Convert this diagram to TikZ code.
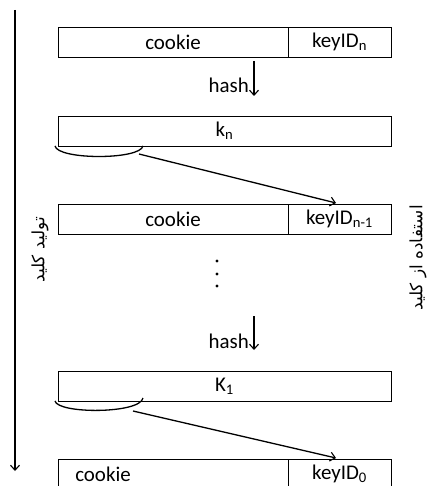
\documentclass[tikz,border=0pt]{standalone}
\usepackage{fontspec}
\setmainfont{Carlito}
\newfontfamily\arabicfont[Script=Arabic]{DejaVu Sans}
\TeXXeTstate=1
\usetikzlibrary{arrows.meta}
\begin{document}
\begin{tikzpicture}[x=1bp,y=-1bp,
  cell/.style={draw=black,line width=0.8bp,minimum height=30bp,inner sep=0pt,outer sep=0pt,anchor=north west},
  lbl/.style={font=\fontsize{21}{25}\selectfont,inner sep=0pt},
  arr/.style={-{Straight Barb[length=5bp,width=9bp,line width=1.1bp]},line width=1.3bp},
  brace/.style={line width=1.3bp},
  side/.style={rotate=90,font=\arabicfont\fontsize{17}{20}\selectfont,inner sep=0pt}]
\useasboundingbox (0,0) rectangle (432,486);
\clip (0,0) rectangle (432,486);
% left long arrow
\coordinate (gtop) at (15,10);
\coordinate (gbot) at (15,471);
\draw[arr] (gtop) -- (gbot);
% row 1
\node[cell,minimum width=230bp] (c1) at (58,27) {};
\node[cell,minimum width=103bp] (d1) at (288,27) {};
\node[lbl] at (c1.center) {cookie};
\node[lbl] at (d1.center) {keyID\textsubscript{n}};
% hash 1
\coordinate (h1a) at (254,61);
\coordinate (h1b) at (254,96);
\draw[arr] (h1a) -- (h1b);
\node[lbl,anchor=east] (hash1) at (249,85) {hash};
% row 2
\node[cell,minimum width=333bp] (k2) at (58,116) {};
\node[lbl] at (k2.center) {k\textsubscript{n}};
\coordinate (b1l) at (55,146);
\coordinate (b1r) at (143,146);
\draw[brace] (b1l) .. controls (58,160) and (140,160) .. (b1r);
\coordinate (a1s) at (139,154);
% row 3
\node[cell,minimum width=230bp] (c3) at (58,204) {};
\node[cell,minimum width=103bp] (d3) at (288,204) {};
\node[lbl] at (c3.center) {cookie};
\node[lbl] at (d3.center) {keyID\textsubscript{n-1}};
\coordinate (a1e) at (336,203);
\draw[arr] (a1s) -- (a1e);
% dots
\foreach \yy in {261,274,286} \fill (217,\yy) circle (1.7bp);
% hash 2
\coordinate (h2a) at (254,316);
\coordinate (h2b) at (254,350);
\draw[arr] (h2a) -- (h2b);
\node[lbl,anchor=east] (hash2) at (249,341) {hash};
% row 4
\node[cell,minimum width=333bp] (k4) at (58,371) {};
\node[lbl] at (k4.center) {K\textsubscript{1}};
\coordinate (b2l) at (55,401);
\coordinate (b2r) at (143,398);
\draw[brace] (b2l) .. controls (58,414) and (140,414) .. (b2r);
\coordinate (a2s) at (133,411);
% row 5
\node[cell,minimum width=230bp] (c5) at (58,459) {};
\node[cell,minimum width=103bp] (d5) at (288,459) {};
\node[lbl] at (103,474) {cookie};
\node[lbl] at (d5.center) {keyID\textsubscript{0}};
\coordinate (a2e) at (336,458);
\draw[arr] (a2s) -- (a2e);
% side labels
\node[side] (gen) at (40,250) {\beginR تولید کلید\endR};
\node[side] (use) at (418,258) {\beginR استفاده از کلید\endR};
\end{tikzpicture}
\end{document}
